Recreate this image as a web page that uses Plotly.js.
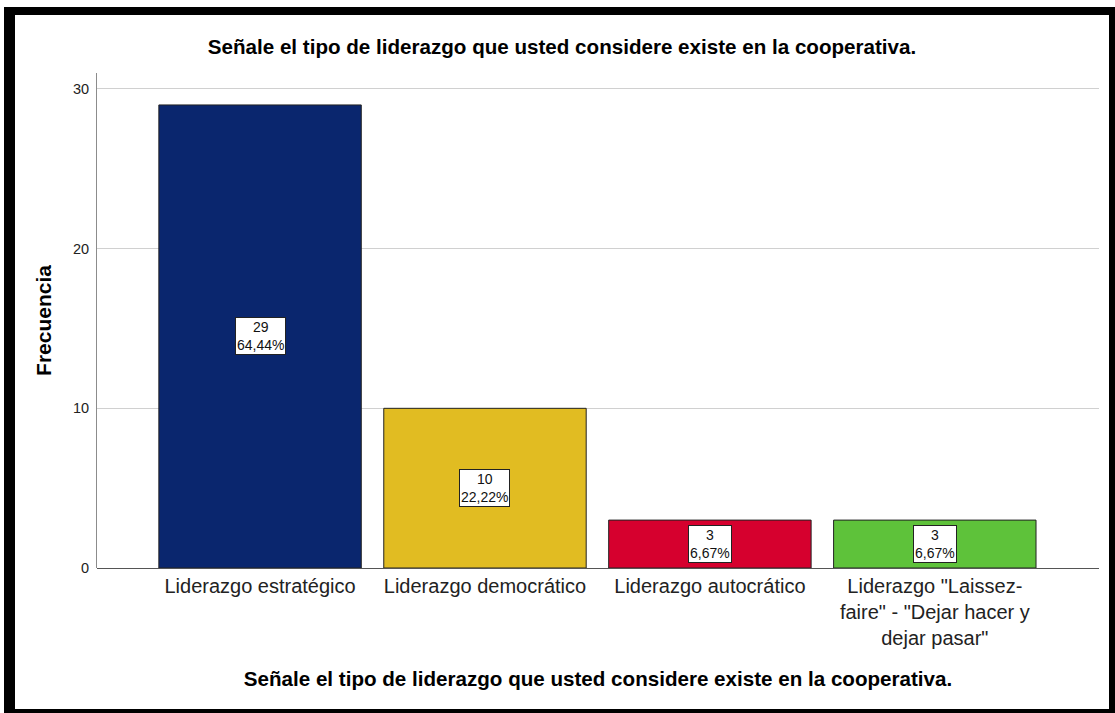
<!DOCTYPE html>
<html>
<head>
<meta charset="utf-8">
<script src="https://cdn.plot.ly/plotly-3.0.1.min.js"></script>
<style>
  html, body { margin: 0; padding: 0; background: #ffffff; width: 1115px; height: 713px; overflow: hidden; }
  #frame { position: absolute; left: 4px; top: 7px; width: 1094px; height: 694px;
           border-left: 11px solid #000; border-top: 8px solid #000; border-right: 6px solid #000; border-bottom: 4px solid #000; }
  #chart { width: 1094px; height: 694px; }
</style>
</head>
<body>
<div id="frame"><div id="chart"></div></div>
<script>
const categories = [
  'Liderazgo estratégico',
  'Liderazgo democrático',
  'Liderazgo autocrático',
  'Liderazgo "Laissez-<br>faire" - "Dejar hacer y<br>dejar pasar"'
];
const frequencies = [29, 10, 3, 3];
const percentLabels = ['64,44%', '22,22%', '6,67%', '6,67%'];
const barColors = ['#0a266e', '#e1bc22', '#d6002e', '#5ec23a'];
const titleText = 'Señale el tipo de liderazgo que usted considere existe en la cooperativa.';
const yTicks = [0, 10, 20, 30];

const trace = {
  type: 'bar',
  x: categories,
  y: frequencies,
  marker: { color: barColors, line: { color: '#222222', width: 1 } },
  width: 0.9,
  hoverinfo: 'none'
};

const annotations = categories.map((c, i) => ({
  x: c, y: frequencies[i] / 2, xref: 'x', yref: 'y',
  text: frequencies[i] + '<br>' + percentLabels[i],
  showarrow: false,
  font: { family: 'Liberation Sans, Arial, sans-serif', size: 14, color: '#111' },
  bgcolor: '#ffffff', bordercolor: '#222222', borderwidth: 1, borderpad: 1
}));

const layout = {
  width: 1094, height: 694,
  paper_bgcolor: '#ffffff', plot_bgcolor: '#ffffff',
  margin: { l: 82, r: 10, t: 58, b: 141 },
  showlegend: false,
  font: { family: 'Liberation Sans, Arial, sans-serif', color: '#222' },
  title: {
    text: '<b>' + titleText + '</b>',
    font: { size: 20.6, color: '#000' },
    x: 0.5, xref: 'container', xanchor: 'center',
    y: 1 - 32 / 694, yref: 'container', yanchor: 'middle'
  },
  xaxis: {
    range: [-0.725, 3.73],
    tickfont: { size: 20, color: '#222' },
    showline: false, showgrid: false, zeroline: false,
    ticks: '', ticklabelstandoff: 4,
    title: { text: '<b>' + titleText + '</b>', font: { size: 20.6, color: '#000' }, standoff: 23 }
  },
  yaxis: {
    range: [0, 31],
    tickvals: yTicks,
    ticktext: yTicks.map(String),
    tickfont: { size: 14.5, color: '#222' },
    showline: true, linecolor: '#8c8c8c', linewidth: 1,
    showgrid: true, gridcolor: '#d0d0d0', gridwidth: 1,
    zeroline: true, zerolinecolor: '#555555', zerolinewidth: 1,
    ticks: '', ticklabelstandoff: 4,
    title: { text: '<b>Frecuencia</b>', font: { size: 21, color: '#000' }, standoff: 15 }
  },
  annotations: annotations
};

Plotly.newPlot('chart', [trace], layout, { displayModeBar: false, staticPlot: true });
</script>
</body>
</html>
